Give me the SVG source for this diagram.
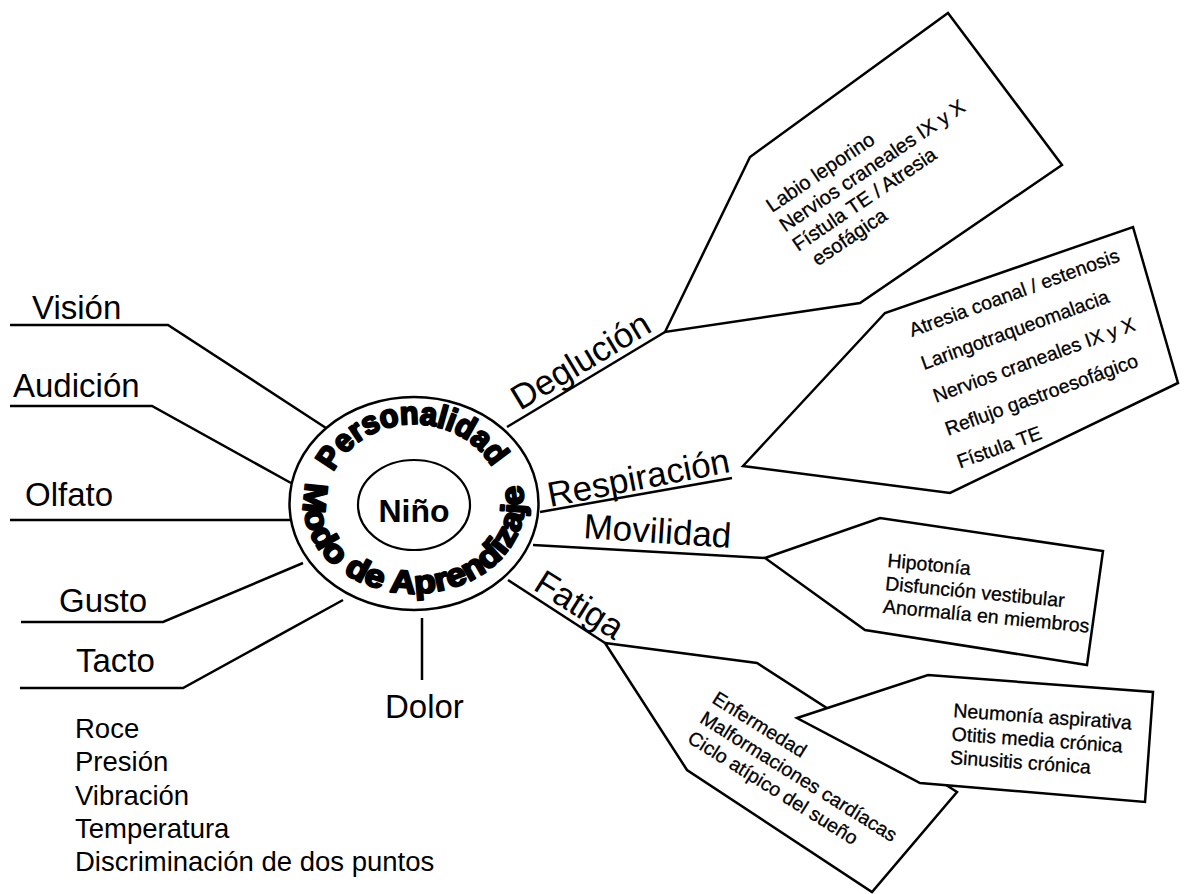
<svg xmlns="http://www.w3.org/2000/svg" width="1186" height="894" viewBox="0 0 1186 894">
<style>
.ln{fill:none;stroke:#000;stroke-width:2.5;stroke-linejoin:miter}
.box{fill:#fff;stroke:#000;stroke-width:2.5;stroke-linejoin:miter}
text{font-family:"Liberation Sans",Arial,sans-serif;fill:#000}
.lbl{font-size:33px}
.rl{font-size:35px}
.sm{font-size:19.5px;stroke:#000;stroke-width:0.3}
.dg{font-size:20px;stroke:#000;stroke-width:0.3}
.lst{font-size:27.5px}
.cv{font-size:32px;font-weight:bold;stroke:#000;stroke-width:2.2;stroke-linejoin:round}
.nino{font-size:32px;font-weight:bold}
</style>
<defs>
<path id="pTop" d="M333.4,472 A88,80 0 0 1 494.6,472"/>
<path id="pBot" d="M307.3,482.5 A110,89 0 1 0 517.4,474"/>
</defs>
<rect width="1186" height="894" fill="#fff"/>
<g id="connectors">
<polyline class="ln" points="10,325 168,325 326,428"/>
<polyline class="ln" points="10,406 152,406 291,483"/>
<polyline class="ln" points="10,520 290,520"/>
<polyline class="ln" points="21,622 163,622 303,563"/>
<polyline class="ln" points="20,688 183,688 343,600"/>
<polyline class="ln" points="422,618 422,680"/>
<polyline class="ln" points="507,427 665,332"/>
<polyline class="ln" points="540,512 732,478"/>
<polyline class="ln" points="533,545 765,558"/>
<polyline class="ln" points="508,580 605,643"/>
</g>
<g id="center">
<ellipse cx="414" cy="503.5" rx="124.5" ry="106.5" fill="#fff" stroke="#000" stroke-width="2.5"/>
<ellipse cx="414" cy="505" rx="56" ry="45" fill="none" stroke="#000" stroke-width="2.2"/>
<text class="nino" x="414" y="522" text-anchor="middle">Niño</text>
<text class="cv"><textPath href="#pTop" textLength="192" lengthAdjust="spacingAndGlyphs">Personalidad</textPath></text>
<text class="cv"><textPath href="#pBot" textLength="355" lengthAdjust="spacingAndGlyphs">Modo de Aprendizaje</textPath></text>
</g>
<g id="vision"><text class="lbl" x="32" y="319">Visión</text></g>
<g id="audicion"><text class="lbl" x="13" y="397">Audición</text></g>
<g id="olfato"><text class="lbl" x="25" y="506">Olfato</text></g>
<g id="gusto"><text class="lbl" x="59" y="612">Gusto</text></g>
<g id="tacto"><text class="lbl" x="76" y="672">Tacto</text>
<text class="lst" x="75" y="738">Roce</text>
<text class="lst" x="75" y="771">Presión</text>
<text class="lst" x="75" y="805">Vibración</text>
<text class="lst" x="75" y="838">Temperatura</text>
<text class="lst" x="75" y="871">Discriminación de dos puntos</text>
</g>
<g id="dolor"><text class="lbl" x="385" y="718">Dolor</text></g>
<g id="deglucion">
<text class="rl" transform="translate(520,411) rotate(-31)">Deglución</text>
<polygon class="box" points="665,332 750,157 948,13 1062,165 860,303"/>
<g transform="translate(772,213) rotate(-34)" class="dg">
<text x="0" y="0">Labio leporino</text>
<text x="0" y="23.5">Nervios craneales IX y X</text>
<text x="0" y="47">Fístula TE / Atresia</text>
<text x="8" y="70">esofágica</text>
</g>
</g>
<g id="respiracion">
<text class="rl" transform="translate(550,507) rotate(-11)">Respiración</text>
<polygon class="box" points="743,466 885,313 1133,227 1178,383 950,493"/>
<g transform="translate(912,337) rotate(-20)" class="sm">
<text x="0" y="0">Atresia coanal / estenosis</text>
<text x="0" y="35">Laringotraqueomalacia</text>
<text x="0" y="70">Nervios craneales IX y X</text>
<text x="0" y="105">Reflujo gastroesofágico</text>
<text x="0" y="140">Fístula TE</text>
</g>
</g>
<g id="movilidad">
<text class="rl" transform="translate(583,538) rotate(3.8)">Movilidad</text>
<polygon class="box" points="765,558 880,518 1103,551 1087,665 865,630"/>
<g transform="translate(887,567) rotate(5.5)" class="sm">
<text x="0" y="0">Hipotonía</text>
<text x="0" y="23">Disfunción vestibular</text>
<text x="0" y="46">Anormalía en miembros</text>
</g>
</g>
<g id="fatiga">
<text class="rl" transform="translate(532,589) rotate(32)">Fatiga</text>
<polygon class="box" points="605,643 757,663 957,792 872,892 687,770"/>
<g transform="translate(711,702) rotate(32)" class="sm">
<text x="0" y="0">Enfermedad</text>
<text x="0" y="23.3">Malformaciones cardíacas</text>
<text x="0" y="46.6">Ciclo atípico del sueño</text>
</g>
</g>
<g id="complicaciones">
<polygon class="box" points="797,718 928,675 1153,692 1145,802 920,783"/>
<g transform="translate(953,717) rotate(4)" class="sm">
<text x="0" y="0">Neumonía aspirativa</text>
<text x="0" y="23.5">Otitis media crónica</text>
<text x="0" y="47">Sinusitis crónica</text>
</g>
</g>
</svg>
